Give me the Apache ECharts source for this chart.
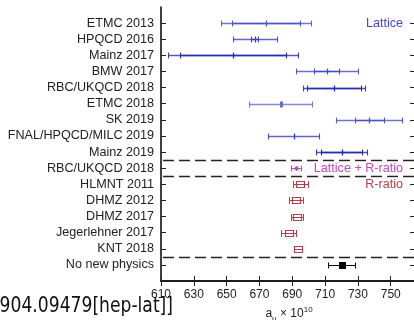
<!DOCTYPE html>
<html><head><meta charset="utf-8">
<script src="https://cdn.jsdelivr.net/npm/echarts@6/dist/echarts.min.js"></script>
<style>html,body{margin:0;padding:0;background:#fff}#c{width:414px;height:320px}</style>
</head><body><div id="c"></div><script>
// ---- data ----
const categories = ['ETMC 2013','HPQCD 2016','Mainz 2017','BMW 2017','RBC/UKQCD 2018','ETMC 2018','SK 2019','FNAL/HPQCD/MILC 2019','Mainz 2019','RBC/UKQCD 2018','HLMNT 2011','DHMZ 2012','DHMZ 2017','Jegerlehner 2017','KNT 2018','No new physics'];
const centralValues = [674, 667, 654, 711, 715.4, 683, 737, 691, 720, 692.3, 694.8, 692.3, 692.9, 687.8, 693.3, 720];
const innerErrors   = [21, 2.2, 32.4, 7.5, 16.4, 0.6, 9, 0, 12.7, 2.9, 4.6, 4.5, 3.8, 4.5, 2.5, 8.1];
const totalErrors   = [27.7, 13.4, 39.5, 18.8, 18.9, 19.1, 20.1, 15.5, 15.8, 2.9, 4.6, 4.5, 3.8, 4.5, 2.5, 8.1];
const groups = ['lattice','lattice','lattice','lattice','lattice','lattice','lattice','lattice','lattice','mixed','rratio','rratio','rratio','rratio','rratio','nnp'];
const groupLabels = {lattice: 'Lattice', mixed: 'Lattice + R-ratio', rratio: 'R-ratio'};
const xTickValues = [610, 630, 650, 670, 690, 710, 730, 750];
const xMin = 610, xMax = 766;

// ---- styles ----
const groupColors = {lattice: '#4646bf', mixed: '#c048c4', rratio: '#b5404c', nnp: '#000000'};
const rowColors = ['#5454c4','#3e3ebb','#2c2cb0','#4a4ac0','#2c2cb0','#6c6cca','#5050c2','#3c3cb8','#2828ac','#c048c4','#b5404c','#b5404c','#b5404c','#b5404c','#b5404c','#000000'];

const n = categories.length;
const rowY = i => n - i;
const rows = categories.map((c, i) => [centralValues[i], rowY(i), innerErrors[i], totalErrors[i]]);
const separators = [];
for (let i = 1; i < n; i++) if (groups[i] !== groups[i-1]) separators.push(rowY(i) + 0.5);
const labelRows = [];
for (let i = 0; i < n; i++) if (groupLabels[groups[i]] && (i === 0 || groups[i] !== groups[i-1])) labelRows.push({y: rowY(i), text: groupLabels[groups[i]], color: groupColors[groups[i]]});

const chart = echarts.init(document.getElementById('c'), null, {renderer: 'canvas'});
const font = 'Liberation Sans, Arial, sans-serif';
const ln = (x1, y1, x2, y2, stroke, lw, opacity) => ({type: 'line', shape: {x1, y1, x2, y2}, style: {stroke, lineWidth: lw || 1, opacity: opacity == null ? 1 : opacity}});

function renderRow(params, api) {
  const i = params.dataIndex;
  const c = api.value(0), yv = api.value(1), inner = api.value(2), outer = api.value(3);
  const g = groups[i], col = rowColors[i];
  const y = Math.round(api.coord([c, yv])[1]) + 0.5;
  const px = v => Math.round(api.coord([v, yv])[0]) + 0.5;
  const xc = px(c), xlo = px(c - outer), xhi = px(c + outer), ilo = px(c - inner), ihi = px(c + inner);
  const ch = [];
  if (g === 'lattice') {
    ch.push(ln(xlo, y, xhi, y, col, 1.3, 0.8));
    ch.push(ln(xlo, y - 3, xlo, y + 3, col, 1.1, 0.9));
    ch.push(ln(xhi, y - 3, xhi, y + 3, col, 1.1, 0.9));
    if (inner > 0) {
      ch.push(ln(ilo, y, ihi, y, col, 1.3));
      ch.push(ln(ilo, y - 3, ilo, y + 3, col, 1.1));
      ch.push(ln(ihi, y - 3, ihi, y + 3, col, 1.1));
    }
    ch.push(ln(xc, y - 3, xc, y + 3, col, 1.3));
  } else if (g === 'mixed') {
    ch.push(ln(xlo, y, xhi, y, col, 1));
    ch.push(ln(xlo, y - 3, xlo, y + 3, col, 1));
    ch.push(ln(xhi, y - 3, xhi, y + 3, col, 1));
    ch.push(ln(xc - 2, y - 2, xc + 2, y + 2, col, 1));
    ch.push(ln(xc - 2, y + 2, xc + 2, y - 2, col, 1));
    ch.push(ln(xc, y - 2.5, xc, y + 2.5, col, 1));
  } else if (g === 'rratio') {
    ch.push(ln(xlo, y, xhi, y, col, 1));
    ch.push(ln(xlo, y - 3.5, xlo, y + 3.5, col, 1));
    ch.push(ln(xhi, y - 3.5, xhi, y + 3.5, col, 1));
    ch.push({type: 'rect', shape: {x: xc - 4, y: y - 3, width: 8, height: 6}, style: {fill: 'none', stroke: col, lineWidth: 1.2}});
  } else {
    ch.push(ln(xlo, y, xhi, y, col, 1));
    ch.push(ln(xlo, y - 3, xlo, y + 3, col, 1));
    ch.push(ln(xhi, y - 3, xhi, y + 3, col, 1));
    ch.push({type: 'rect', shape: {x: xc - 3.5, y: y - 3.5, width: 7, height: 7}, style: {fill: col}});
  }
  return {type: 'group', children: ch};
}

const axisLineStyle = {color: '#111', width: 1.6};
const rowTicks = categories.map((c, i) => rowY(i));
chart.setOption({
  animation: false,
  grid: {left: 161, right: -3, top: 7, bottom: 39, containLabel: false, outerBoundsMode: 'none'},
  xAxis: [{
    type: 'value', position: 'bottom', min: xMin, max: xMax,
    axisLine: {show: true, lineStyle: axisLineStyle},
    axisTick: {show: true, inside: true, length: 5, customValues: xTickValues, lineStyle: {color: '#222', width: 1}},
    axisLabel: {customValues: xTickValues, fontSize: 12, color: '#222', fontFamily: font, margin: 8},
    splitLine: {show: false},
    name: '{a|a}{s|μ}{a| × 10}{p|10}', nameLocation: 'middle', nameGap: 24,
    nameTextStyle: {rich: {
      a: {fontSize: 12, color: '#222', fontFamily: font, verticalAlign: 'bottom', lineHeight: 14},
      s: {fontSize: 8, color: '#222', fontFamily: font, verticalAlign: 'bottom', lineHeight: 10, padding: [0,0,-3,0]},
      p: {fontSize: 8, color: '#222', fontFamily: font, verticalAlign: 'top', lineHeight: 10, padding: [0,0,6,0]}
    }}
  }, {
    type: 'value', position: 'top', min: xMin, max: xMax,
    axisLine: {show: true, lineStyle: axisLineStyle},
    axisTick: {show: true, inside: true, length: 5, customValues: xTickValues, lineStyle: {color: '#222', width: 1}},
    axisLabel: {show: false}, splitLine: {show: false}
  }],
  yAxis: [{
    type: 'value', position: 'left', min: 0, max: n + 1,
    axisLine: {show: true, lineStyle: axisLineStyle},
    axisTick: {show: true, inside: true, length: 5, customValues: rowTicks, lineStyle: {color: '#222', width: 1}},
    axisLabel: {customValues: rowTicks, formatter: v => categories[n - v] || '', fontSize: 12.6, color: '#222', fontFamily: font, margin: 7},
    splitLine: {show: false}
  }, {
    type: 'value', position: 'right', min: 0, max: n + 1,
    axisLine: {show: true, lineStyle: axisLineStyle},
    axisTick: {show: true, inside: true, length: 7, customValues: rowTicks, lineStyle: {color: '#222', width: 1}},
    axisLabel: {show: false}, splitLine: {show: false}
  }],
  series: [{
    type: 'custom', xAxisIndex: 0, yAxisIndex: 0,
    data: separators.map(s => [xMin, s]),
    renderItem(params, api) {
      const cs = params.coordSys;
      const y = Math.round(api.coord([xMin, api.value(1)])[1]) + 0.5;
      return {type: 'line', shape: {x1: cs.x + 2, y1: y, x2: cs.x + cs.width, y2: y}, style: {stroke: '#222', lineWidth: 1.3, lineDash: [11, 5]}};
    }, silent: true, z: 1
  }, {
    type: 'custom', xAxisIndex: 0, yAxisIndex: 0,
    data: rows, renderItem: renderRow, silent: true, z: 3
  }, {
    type: 'custom', xAxisIndex: 0, yAxisIndex: 0,
    data: labelRows.map(r => [757.5, r.y]),
    renderItem(params, api) {
      const r = labelRows[params.dataIndex];
      const p = api.coord([api.value(0), api.value(1)]);
      return {type: 'text', x: p[0], y: p[1], style: {text: r.text, fill: r.color, font: '12.6px ' + font, align: 'right', verticalAlign: 'middle', backgroundColor: '#fff'}};
    }, silent: true, z: 4
  }],
  graphic: [{
    type: 'text', x: 173, y: 306, scaleX: 0.78,
    style: {text: '[arXiv:1904.09479[hep-lat]]', fill: '#111', font: '22px DejaVu Sans, sans-serif', align: 'right', verticalAlign: 'middle'}
  }]
});
</script></body></html>
